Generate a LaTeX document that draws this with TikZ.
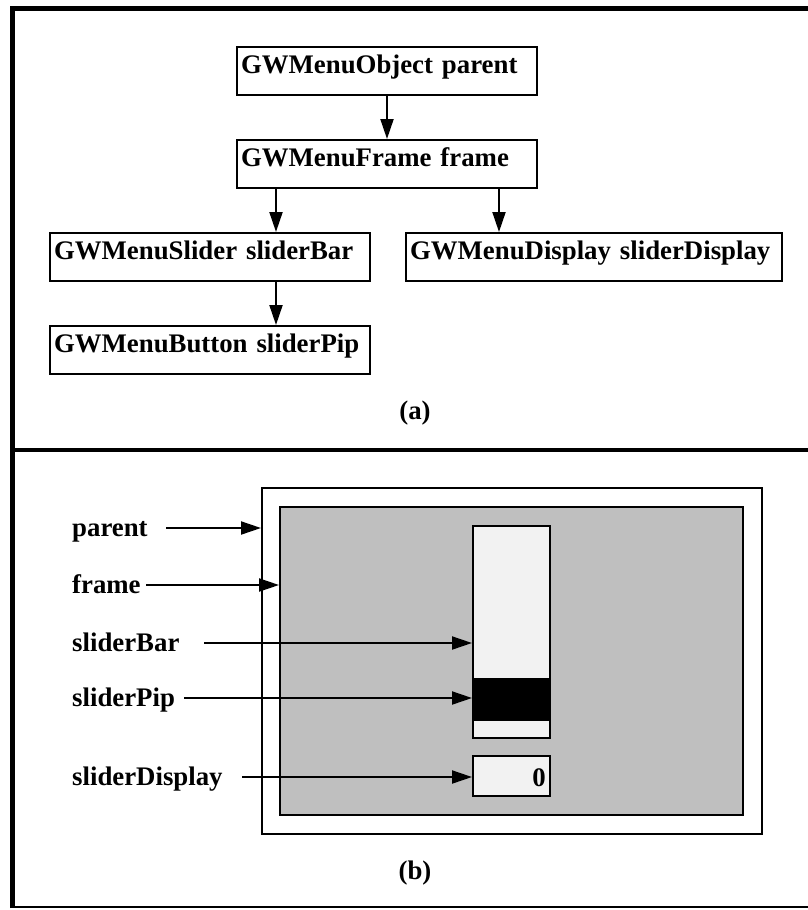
\documentclass[tikz,border=0pt]{standalone}
\usepackage{fontspec}
\setmainfont{Liberation Serif}
\usetikzlibrary{arrows.meta,calc}
\begin{document}
\begin{tikzpicture}[x=1pt,y=-1pt,
  font=\fontsize{26.8}{32}\selectfont\bfseries,
  classbox/.style={draw,line width=2pt,minimum height=48pt,inner xsep=4pt,inner ysep=0pt,
    align=left,text height=0.72em,text depth=0.2em},
  arr/.style={line width=2pt,-{Triangle[length=20pt,width=13pt]}},
  lbl/.style={anchor=base west,inner sep=0pt},
  panel/.style={draw,line width=2pt,inner sep=0pt},
  caption/.style={inner sep=0pt}]
\useasboundingbox (0,0) rectangle (808,910);

% outer frame and the rule between the two panels
\draw[line width=5pt] (12.5,908) -- (12.5,8.5) -- (812,8.5);
\draw[line width=4.5pt] (12.5,450) -- (812,450);
\draw[line width=2pt] (12.5,907) -- (812,907);

% ---- (a) object hierarchy ----
\node[classbox,text width=292pt] (obj)   at (387,71)  {GWMenuObject parent};
\node[classbox,text width=292pt] (frm)   at (387,164) {GWMenuFrame frame};
\node[classbox,text width=312pt] (sld)   at (210,257) {GWMenuSlider sliderBar};
\node[classbox,text width=368pt] (dsp)   at (594,257) {GWMenuDisplay sliderDisplay};
\node[classbox,text width=312pt] (btn)   at (210,350) {GWMenuButton sliderPip};

\coordinate (xl) at (276,0);
\coordinate (xr) at (499,0);
\draw[arr] (obj.south) -- (frm.north);
\draw[arr] (frm.south -| xl) -- (sld.north -| xl);
\draw[arr] (frm.south -| xr) -- (dsp.north -| xr);
\draw[arr] (sld.south -| xl) -- (btn.north -| xl);

\node[caption] (capa) at (415,413) {(a)};

% ---- (b) on-screen layout ----
\node[panel,minimum width=500pt,minimum height=346pt] (outer) at (512,661) {};
\node[panel,fill=black!25,minimum width=463pt,minimum height=308pt] (gray) at (511.5,661) {};
\node[panel,fill=black!5,minimum width=77pt,minimum height=212pt] (bar) at (511.5,632) {};
\node[panel,fill=black,minimum width=77pt,minimum height=41pt] (pip) at (511.5,699.5) {};
\node[panel,fill=black!5,minimum width=77pt,minimum height=40pt] (disp) at (511.5,776) {};
\node[anchor=base east,inner sep=0pt] (val) at (546,786) {0};

\node[lbl] (lparent) at (72,536) {parent};
\node[lbl] (lframe)  at (72,593) {frame};
\node[lbl] (lbar)    at (72,651) {sliderBar};
\node[lbl] (lpip)    at (72,706) {sliderPip};
\node[lbl] (ldisp)   at (72,785) {sliderDisplay};

\coordinate (sparent) at (166,528);
\coordinate (sframe)  at (146,585);
\coordinate (sbar)    at (204,643);
\coordinate (spip)    at (184,698);
\coordinate (sdisp)   at (242,777);

\draw[arr] (sparent) -- (sparent -| outer.west);
\draw[arr] (sframe)  -- (sframe -| gray.west);
\draw[arr] (sbar)    -- (sbar -| bar.west);
\draw[arr] (spip)    -- (spip -| pip.west);
\draw[arr] (sdisp)   -- (sdisp -| disp.west);

\node[caption] (capb) at (415,873) {(b)};
\end{tikzpicture}
\end{document}
